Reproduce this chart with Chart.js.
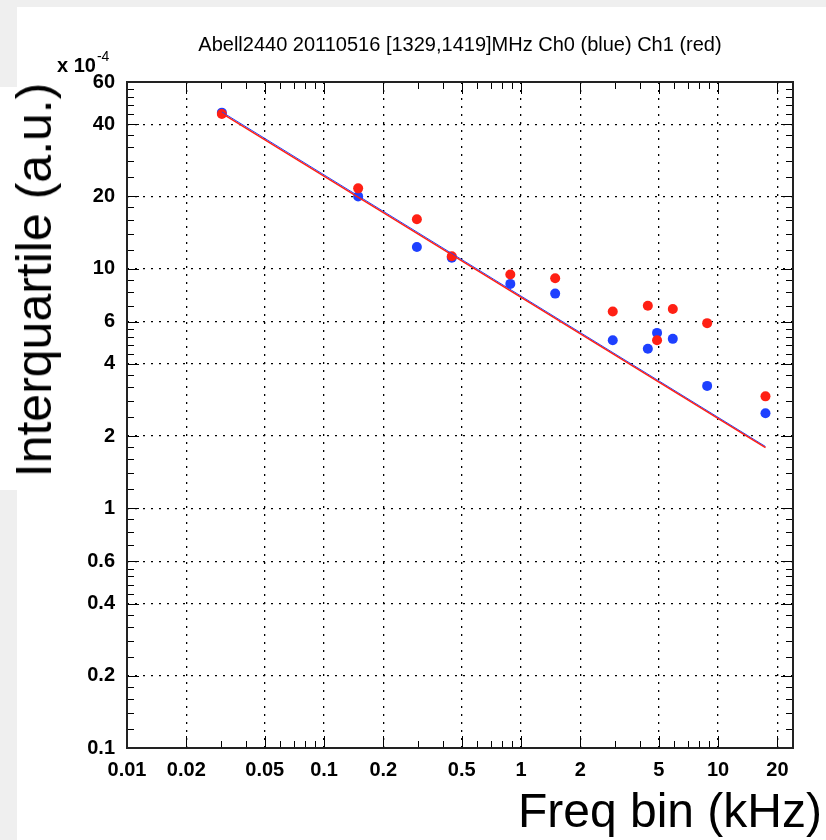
<!DOCTYPE html>
<html lang="en">
<head>
  <meta charset="UTF-8">
  <title>Abell2440 interquartile vs freq bin</title>
  <script src="https://cdn.jsdelivr.net/npm/chart.js@4"></script>
  <style>
    body { margin: 0; background: #fff; font-family: "Liberation Sans", Arial, sans-serif; }
    .wrap { position: relative; width: 826px; height: 840px; overflow: hidden; }
    .strip { position: absolute; background: #efefef; }
    canvas { position: absolute; left: 0; top: 0; }
    .txt { position: absolute; white-space: nowrap; color: #000; }
    .title { left: 460px; top: 34px; transform: translateX(-50%); font-size: 20px; line-height: 20px; }
    .expo { left: 57px; top: 49px; font-size: 20px; line-height: 20px; font-weight: bold; }
    .expo sup { font-size: 14px; font-weight: normal; position: relative; top: -3px; margin-left: 1px; }
    .ytitle { left: 34px; top: 280px; transform: translate(-50%, -50%) rotate(-90deg); font-size: 50px; line-height: 50px; }
    .xtitle { right: 4px; top: 787px; font-size: 48px; line-height: 48px; }
  </style>
</head>
<body>
<div class="wrap">
  <div class="strip" style="left:0;top:0;width:826px;height:7px"></div>
  <div class="strip" style="left:0;top:0;width:17px;height:87px"></div>
  <div class="strip" style="left:0;top:490px;width:17px;height:350px"></div>
  <canvas id="iqrChart" width="826" height="840"></canvas>
  <div class="txt title">Abell2440 20110516 [1329,1419]MHz Ch0 (blue) Ch1 (red)</div>
  <div class="txt expo">x 10<sup>-4</sup></div>
  <div class="txt ytitle">Interquartile (a.u.)</div>
  <div class="txt xtitle">Freq bin (kHz)</div>
</div>

<script>
  // data (y in units of 1e-4)
  const freqKHz = [0.0303, 0.149, 0.296, 0.445, 0.882, 1.49, 2.92, 4.40, 4.90, 5.89, 8.80, 17.4];
  const iqrCh0  = [44.7, 20.0, 12.3, 11.1, 8.63, 7.86, 5.02, 4.63, 5.39, 5.09, 3.24, 2.49];
  const iqrCh1  = [44.1, 21.6, 16.05, 11.26, 9.44, 9.11, 6.62, 6.99, 5.02, 6.78, 5.92, 2.93];

  // fitted power laws (end points)
  const fitFreq = [0.0303, 17.4];
  const fitCh0  = [45.0, 1.81];
  const fitCh1  = [44.4, 1.79];

  // axis ticks
  const xTickVals = [0.01, 0.02, 0.05, 0.1, 0.2, 0.5, 1, 2, 5, 10, 20];
  const yTickVals = [0.1, 0.2, 0.4, 0.6, 1, 2, 4, 6, 10, 20, 40, 60];
  const xMinorMant = [1, 2, 3, 4, 5, 6, 7, 8, 9];
  const yMinorMant = [1, 1.2, 1.4, 1.6, 1.8, 2, 2.4, 2.8, 3.2, 3.6, 4, 4.4, 4.8, 5.2, 5.6, 6, 7, 8, 9];

  const BLUE = 'rgb(30,64,255)';
  const RED = 'rgb(255,32,20)';

  function pts(xs, ys) {
    return xs.map((x, i) => ({ x: x, y: ys[i] }));
  }

  function minorValues(mant, lo, hi) {
    const out = [];
    for (let e = Math.floor(Math.log10(lo)) - 1; e <= Math.ceil(Math.log10(hi)); e++) {
      mant.forEach(m => {
        const v = m * Math.pow(10, e);
        if (v >= lo * 0.999 && v <= hi * 1.001) out.push(v);
      });
    }
    return out;
  }

  // frame + inward ticks, ROOT style
  const frameTicks = {
    id: 'frameTicks',
    afterDraw(chart) {
      const { ctx, chartArea: a, scales } = chart;
      const xs = scales.x, ys = scales.y;
      ctx.save();
      ctx.strokeStyle = '#000';
      ctx.lineWidth = 1;
      ctx.beginPath();
      minorValues(xMinorMant, xs.min, xs.max).forEach(v => {
        const px = Math.round(xs.getPixelForValue(v)) + 0.5;
        const len = xTickVals.includes(+v.toPrecision(6)) ? 12 : 7;
        ctx.moveTo(px, a.bottom); ctx.lineTo(px, a.bottom - len);
        ctx.moveTo(px, a.top); ctx.lineTo(px, a.top + len);
      });
      minorValues(yMinorMant, ys.min, ys.max).forEach(v => {
        const py = Math.round(ys.getPixelForValue(v)) + 0.5;
        const len = yTickVals.includes(+v.toPrecision(6)) ? 12 : 7;
        ctx.moveTo(a.left, py); ctx.lineTo(a.left + len, py);
        ctx.moveTo(a.right, py); ctx.lineTo(a.right - len, py);
      });
      ctx.stroke();
      ctx.lineWidth = 2;
      ctx.strokeStyle = '#222';
      ctx.strokeRect(a.left, a.top, a.right - a.left, a.bottom - a.top);
      ctx.restore();
    }
  };

  const tickFont = { family: '"Liberation Sans", Arial, sans-serif', size: 20, weight: 'bold' };

  new Chart(document.getElementById('iqrChart'), {
    type: 'scatter',
    data: {
      datasets: [
        { label: 'fit Ch1', data: pts(fitFreq, fitCh1), showLine: true, borderColor: RED, borderWidth: 1.5, pointRadius: 0 },
        { label: 'fit Ch0', data: pts(fitFreq, fitCh0), showLine: true, borderColor: BLUE, borderWidth: 1, pointRadius: 0 },
        { label: 'Ch1 (red)', data: pts(freqKHz, iqrCh1), backgroundColor: RED, borderColor: RED, borderWidth: 0, pointRadius: 5 },
        { label: 'Ch0 (blue)', data: pts(freqKHz, iqrCh0), backgroundColor: BLUE, borderColor: BLUE, borderWidth: 0, pointRadius: 5 }
      ]
    },
    options: {
      responsive: false,
      animation: false,
      devicePixelRatio: 1,
      layout: { padding: { top: 82, right: 33, bottom: 52, left: 0 } },
      plugins: { legend: { display: false }, tooltip: { enabled: false } },
      scales: {
        x: {
          type: 'logarithmic',
          min: 0.01,
          max: 24.0,
          bounds: 'data',
          afterBuildTicks: s => { s.ticks = xTickVals.map(v => ({ value: v })); },
          afterFit: s => { s.height = 40; },
          ticks: { autoSkip: false, maxRotation: 0, padding: 10, color: '#000', font: tickFont, callback: v => String(v) },
          grid: { color: '#000', lineWidth: 1.3, drawTicks: false },
          border: { display: false, dash: [2, 6] }
        },
        y: {
          type: 'logarithmic',
          min: 0.1,
          max: 60,
          bounds: 'data',
          afterBuildTicks: s => { s.ticks = yTickVals.map(v => ({ value: v })); },
          afterFit: s => { s.width = 127; },
          ticks: { autoSkip: false, padding: 12, color: '#000', font: tickFont, callback: v => String(v) },
          grid: { color: '#000', lineWidth: 1.3, drawTicks: false },
          border: { display: false, dash: [2, 6] }
        }
      }
    },
    plugins: [frameTicks]
  });
</script>
</body>
</html>
